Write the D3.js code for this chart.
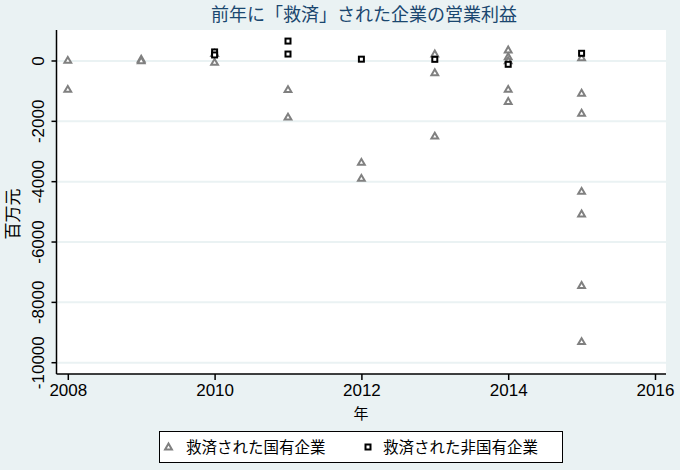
<!DOCTYPE html>
<html>
<head>
<meta charset="utf-8">
<script src="https://cdn.jsdelivr.net/npm/d3@7"></script>
<style>
body { margin: 0; background: #eaf2f3; }
text { font-family: "Liberation Sans", Arial, sans-serif; }
.jp { font-family: "Noto Sans CJK JP", sans-serif; }
</style>
</head>
<body>
<div id="chart"></div>
<script>
// rescued state-owned firms (triangles)
let soeYears  = [2008, 2008, 2009, 2009, 2010, 2010, 2011, 2011, 2012, 2012, 2013, 2013, 2013,
                 2014, 2014, 2014, 2014, 2014, 2015, 2015, 2015, 2015, 2015, 2015, 2015];
let soeValues = [20, -940, 60, 10, -45, 250, -950, -1860, -3360, -3890, 230, -390, -2490,
                 365, 140, 10, -940, -1340, 110, -1070, -1730, -4320, -5070, -7440, -9300];
// rescued non-state firms (squares)
let nonYears  = [2010, 2010, 2011, 2011, 2012, 2013, 2014, 2015];
let nonValues = [300, 200, 660, 230, 60, 55, -110, 255];

let xTicks = [2008, 2010, 2012, 2014, 2016];
let yTicks = [0, -2000, -4000, -6000, -8000, -10000];

let titleText = "前年に「救済」された企業の営業利益";
let seriesNames = ["救済された国有企業", "救済された非国有企業"];

let width = 680, height = 470;
let plot = {left: 56.5, right: 666, top: 30, bottom: 374};

let svg = d3.select("#chart").append("svg")
    .attr("width", width)
    .attr("height", height);

svg.append("rect").attr("width", width).attr("height", height).attr("fill", "#eaf2f3");
svg.append("rect")
    .attr("x", plot.left).attr("y", plot.top)
    .attr("width", plot.right - plot.left).attr("height", plot.bottom - plot.top)
    .attr("fill", "white");

let x = d3.scaleLinear().domain([2007.846, 2016.15]).range([plot.left, plot.right]);
let y = d3.scaleLinear().domain([1027, -10374]).range([plot.top, plot.bottom]);

// gridlines
svg.append("g").selectAll("line")
    .data(yTicks).enter().append("line")
    .attr("x1", plot.left).attr("x2", plot.right)
    .attr("y1", d => y(d)).attr("y2", d => y(d))
    .attr("stroke", "#eaf2f3").attr("stroke-width", 2);

// y axis
let yAxis = svg.append("g")
    .attr("transform", "translate(" + plot.left + ",0)")
    .call(d3.axisLeft(y).tickValues(yTicks).tickSize(5).tickPadding(12).tickFormat(d => String(d)));
yAxis.select(".domain").attr("stroke", "black").attr("stroke-width", 1.5).attr("d", "M0," + plot.top + "V" + plot.bottom);
yAxis.selectAll(".tick line").attr("stroke-width", 1.5);
yAxis.selectAll(".tick text")
    .attr("font-size", 17).attr("fill", "black")
    .attr("transform", function(d) { return "rotate(-90," + (-18) + "," + y(d) + ")"; })
    .attr("x", -18).attr("y", d => y(d)).attr("dy", "0.35em")
    .attr("text-anchor", "middle")
    .each(function() { d3.select(this.parentNode).attr("transform", null); });
yAxis.selectAll(".tick line").attr("y1", d => y(d)).attr("y2", d => y(d));

// x axis
let xAxis = svg.append("g")
    .attr("transform", "translate(0," + plot.bottom + ")")
    .call(d3.axisBottom(x).tickValues(xTicks).tickSize(6).tickPadding(4).tickFormat(d => String(d)));
xAxis.select(".domain").attr("stroke", "black").attr("stroke-width", 1.5).attr("d", "M" + plot.left + ",0H" + plot.right);
xAxis.selectAll(".tick line").attr("stroke-width", 1.5);
xAxis.selectAll(".tick text").attr("font-size", 17).attr("fill", "black");

// markers
let tri = d3.symbol().type(d3.symbolTriangle).size(20);
svg.append("g").selectAll("path")
    .data(soeYears.map((d, i) => [d, soeValues[i]]))
    .enter().append("path")
    .attr("d", tri)
    .attr("transform", d => "translate(" + x(d[0]) + "," + (y(d[1]) + 0.5) + ")")
    .attr("fill", "white").attr("stroke", "#808080").attr("stroke-width", 2);

svg.append("g").selectAll("rect")
    .data(nonYears.map((d, i) => [d, nonValues[i]]))
    .enter().append("rect")
    .attr("x", d => x(d[0]) - 2.5).attr("y", d => y(d[1]) - 2.5)
    .attr("width", 5).attr("height", 5)
    .attr("fill", "white").attr("stroke", "black").attr("stroke-width", 2);

// title and axis titles
svg.append("text").attr("class", "jp")
    .attr("x", 364).attr("y", 21)
    .attr("text-anchor", "middle").attr("font-size", 18).attr("fill", "#1a476f")
    .text(titleText);

svg.append("text").attr("class", "jp")
    .attr("transform", "translate(19,214) rotate(-90)")
    .attr("text-anchor", "middle").attr("font-size", 17).attr("fill", "black")
    .text("百万元");

svg.append("text").attr("class", "jp")
    .attr("x", 361).attr("y", 419)
    .attr("text-anchor", "middle").attr("font-size", 15).attr("fill", "black")
    .text("年");

// legend
let legend = svg.append("g");
legend.append("rect")
    .attr("x", 159.5).attr("y", 431.5).attr("width", 403).attr("height", 31)
    .attr("fill", "white").attr("stroke", "black").attr("stroke-width", 1);
legend.append("path")
    .attr("d", tri)
    .attr("transform", "translate(168.5,447.5)")
    .attr("fill", "white").attr("stroke", "#808080").attr("stroke-width", 2);
legend.append("rect")
    .attr("x", 365.5).attr("y", 444.5).attr("width", 5).attr("height", 5)
    .attr("fill", "white").attr("stroke", "black").attr("stroke-width", 2);
legend.append("text").attr("class", "jp")
    .attr("x", 186).attr("y", 453).attr("font-size", 15.5).attr("fill", "black")
    .text(seriesNames[0]);
legend.append("text").attr("class", "jp")
    .attr("x", 383).attr("y", 453).attr("font-size", 15.5).attr("fill", "black")
    .text(seriesNames[1]);
</script>
</body>
</html>
